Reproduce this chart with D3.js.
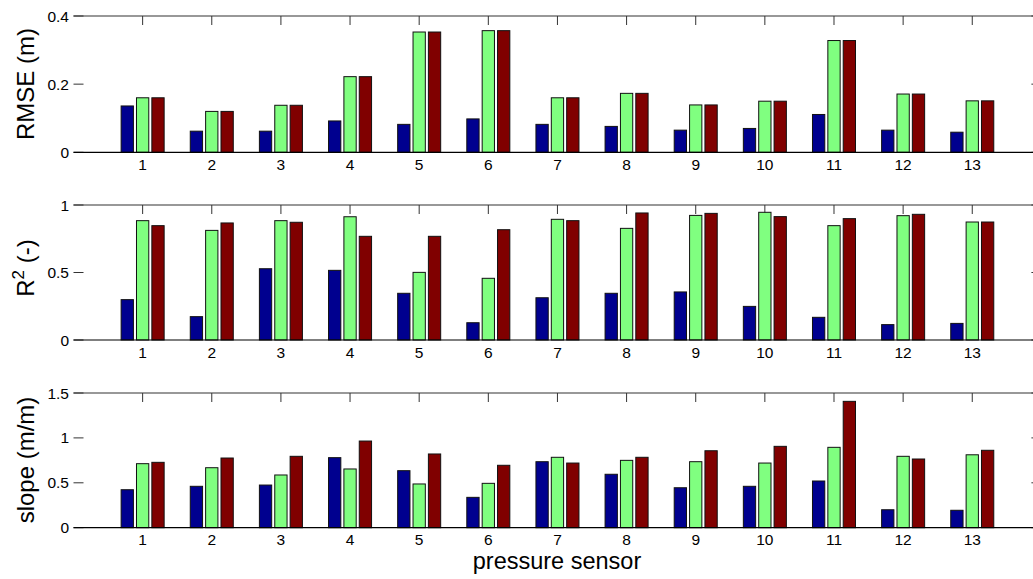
<!DOCTYPE html>
<html><head><meta charset="utf-8">
<script src="https://cdn.jsdelivr.net/npm/d3@7/dist/d3.min.js"></script>
<style>body{margin:0;background:#fff}svg{display:block}text{font-family:"Liberation Sans",Arial,sans-serif;fill:#000}</style>
</head><body><svg id="c" width="1033" height="579"></svg>
<script>
const categories = [1,2,3,4,5,6,7,8,9,10,11,12,13];
const seriesKeys = ["s1","s2","s3"];
const seriesColors = ["#00008f","#80ff80","#800000"];

const rmse_s1 = [0.136,0.062,0.062,0.092,0.082,0.098,0.082,0.076,0.065,0.070,0.111,0.065,0.059];
const rmse_s2 = [0.160,0.120,0.138,0.222,0.353,0.357,0.160,0.173,0.139,0.150,0.328,0.171,0.151];
const rmse_s3 = [0.160,0.120,0.138,0.222,0.353,0.357,0.160,0.173,0.139,0.150,0.328,0.171,0.151];

const r2_s1 = [0.299,0.173,0.528,0.516,0.346,0.128,0.313,0.346,0.356,0.249,0.168,0.114,0.123];
const r2_s2 = [0.884,0.812,0.884,0.913,0.501,0.457,0.894,0.827,0.923,0.946,0.847,0.921,0.874];
const r2_s3 = [0.847,0.867,0.872,0.768,0.768,0.817,0.884,0.941,0.938,0.914,0.899,0.931,0.874];

const slope_s1 = [0.423,0.461,0.475,0.780,0.635,0.338,0.735,0.595,0.445,0.461,0.520,0.200,0.194];
const slope_s2 = [0.713,0.668,0.587,0.654,0.487,0.494,0.784,0.750,0.735,0.720,0.895,0.795,0.812];
const slope_s3 = [0.728,0.776,0.795,0.965,0.821,0.695,0.720,0.784,0.857,0.906,1.407,0.765,0.862];

const rmseTicks = [0,0.2,0.4];
const r2Ticks = [0,0.5,1];
const slopeTicks = [0,0.5,1,1.5];

const panels = [
  {vals:[rmse_s1,rmse_s2,rmse_s3], domain:[0,0.4], ticks:rmseTicks, top:16, bottom:152.3, label:"RMSE (m)", labelY:84},
  {vals:[r2_s1,r2_s2,r2_s3], domain:[0,1], ticks:r2Ticks, top:205, bottom:340, label:"R2", labelY:268},
  {vals:[slope_s1,slope_s2,slope_s3], domain:[0,1.5], ticks:slopeTicks, top:393, bottom:527.7, label:"slope (m/m)", labelY:460}
];

const svg = d3.select("#c");
const x = d3.scaleLinear().domain([0,14]).range([73.5,1041.4]);
const off = d3.scalePoint().domain(seriesKeys).range([-2/9, 2/9]);
const bw = 0.8*2/9;
const fmt = d => d3.format("~g")(d);

panels.forEach(p => {
  const y = d3.scaleLinear().domain(p.domain).range([p.bottom, p.top]);
  const g = svg.append("g");
  // ticks (drawn below bars)
  const tg = g.append("g").attr("stroke","#333").attr("stroke-width",1);
  categories.forEach(c => {
    tg.append("line").attr("x1",x(c)).attr("x2",x(c)).attr("y1",y.range()[1]).attr("y2",y.range()[1]+9);
    tg.append("line").attr("x1",x(c)).attr("x2",x(c)).attr("y1",y.range()[0]).attr("y2",y.range()[0]-9);
  });
  p.ticks.forEach(t => {
    tg.append("line").attr("x1",x(0)).attr("x2",x(0)+10).attr("y1",y(t)).attr("y2",y(t));
    tg.append("line").attr("x1",x(14)).attr("x2",x(14)-10).attr("y1",y(t)).attr("y2",y(t));
  });
  // bars
  seriesKeys.forEach((k,si) => {
    g.append("g").selectAll("rect").data(categories).join("rect")
      .attr("x", (c) => x(c + off(k) - bw/2))
      .attr("width", x(bw) - x(0))
      .attr("y", (c,i) => y(p.vals[si][i]))
      .attr("height", (c,i) => y(0) - y(p.vals[si][i]))
      .attr("fill", seriesColors[si])
      .attr("stroke","#111").attr("stroke-width",1);
  });
  // box lines (top and bottom)
  g.append("line").attr("x1",x(0)).attr("x2",x(14)).attr("y1",y.range()[1]).attr("y2",y.range()[1]).attr("stroke","#333").attr("stroke-width",1.2);
  g.append("line").attr("x1",x(0)).attr("x2",x(14)).attr("y1",y(0)).attr("y2",y(0)).attr("stroke","#000").attr("stroke-width",1.2);
  // y tick labels
  g.append("g").selectAll("text").data(p.ticks).join("text")
    .attr("x", x(0)-4.5).attr("y", d => y(d)).attr("dy","0.36em")
    .attr("text-anchor","end").attr("font-size",15.5).text(fmt);
  // x tick labels
  g.append("g").selectAll("text").data(categories).join("text")
    .attr("x", d => x(d)).attr("y", y(0)+17.7)
    .attr("text-anchor","middle").attr("font-size",15.5).text(d => d);
  // y label
  const lt = g.append("text").attr("transform",`translate(34,${p.labelY}) rotate(-90)`)
    .attr("text-anchor","middle").attr("font-size",24);
  if (p.label === "R2") {
    lt.append("tspan").text("R");
    lt.append("tspan").attr("font-size",17).attr("dy",-10).text("2");
    lt.append("tspan").attr("dy",10).text(" (-)");
  } else {
    lt.text(p.label);
  }
});

svg.append("text").attr("x",557).attr("y",568.5).attr("text-anchor","middle").attr("font-size",23.5).text("pressure sensor");
</script></body></html>
